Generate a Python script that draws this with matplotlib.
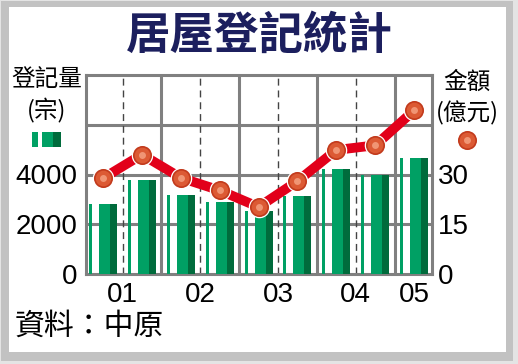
import numpy as np
import matplotlib
matplotlib.use("Agg")
import matplotlib.pyplot as plt
from matplotlib.patches import Rectangle

plt.rcParams['font.family'] = ['Liberation Sans', 'Noto Sans CJK TC', 'DejaVu Sans']

# --- Data ---
title = "居屋登記統計"
year_labels = ["01", "02", "03", "04", "05"]
year_pos = [0.5, 2.5, 4.5, 6.5, 8]
registrations = [2800, 3760, 3190, 2900, 2550, 3150, 4230, 3960, 4670]   # 宗
amount = [28.9, 36.0, 29.0, 25.2, 20.2, 28.0, 37.4, 38.8, 49.3]          # 億元
left_ticks = [0, 2000, 4000]
right_ticks = [0, 15, 30]

# --- Colours ---
green_mid = "#00a064"
green_dark = "#006b3c"
red_line = "#e2001a"
dot_edge = "#c23a1c"
dot_color = "#dc5a34"
dot_hi = "#f4a080"
grid_gray = "#808080"
navy = "#1c1f5e"

W, H = 518, 364
fig = plt.figure(figsize=(W / 100, H / 100), dpi=100)
fig.patch.set_facecolor("#e4e4e4")

# frame
fig.patches.append(Rectangle((1 / W, 3 / H), 512 / W, 360 / H, transform=fig.transFigure,
                             facecolor="#c2c2c2", edgecolor="none", zorder=-10))
fig.patches.append(Rectangle((9 / W, 12 / H), 497 / W, 345 / H, transform=fig.transFigure,
                             facecolor="white", edgecolor="none", zorder=-9))

ax = fig.add_axes([86 / W, 90 / H, 346 / W, 199 / H])
ax.set_facecolor("white")
x = np.arange(len(registrations))

# bars: thin strip, white gap, mid body, dark shade
ax.bar(x - 0.36, registrations, width=0.077, align="edge", color=green_mid, zorder=3)
ax.bar(x - 0.103, registrations, width=0.283, align="edge", color=green_mid, zorder=3)
ax.bar(x + 0.18, registrations, width=0.18, align="edge", color=green_dark, zorder=3)

ax.set_xlim(-0.44, 8.46)
ax.set_ylim(0, 8000)
ax.set_xticks(year_pos)
ax.set_xticklabels(year_labels)
ax.set_yticks(left_ticks)

# grid
for yv in [2000, 4000, 6000]:
    ax.axhline(yv, color=grid_gray, lw=2.2, zorder=1)
for xv in [1.5, 3.5, 5.5, 7.5]:
    ax.axvline(xv, color=grid_gray, lw=2.2, zorder=1)
for xv in [0.5, 2.5, 4.5, 6.5]:
    ax.axvline(xv, color="#444444", lw=1.0, ls=(0, (5, 3.5)), zorder=1)

for s in ax.spines.values():
    s.set_color(grid_gray)
    s.set_linewidth(2.2)
ax.tick_params(length=0, labelsize=20, colors="black")
ax.tick_params(axis="y", pad=6)
ax.tick_params(axis="x", pad=6)

# amount line on right axis
ax2 = ax.twinx()
ax2.set_ylim(0, 60)
ax2.set_yticks(right_ticks)
ax2.tick_params(length=0, labelsize=20, pad=4)
for s in ax2.spines.values():
    s.set_visible(False)
ax2.plot(x, amount, color=red_line, lw=7, zorder=4, solid_capstyle="butt")
ax2.plot(x, amount, ls="none", marker="o", ms=14.5, mfc="white", mec="white", zorder=5)
ax2.plot(x, amount, ls="none", marker="o", ms=12.5, mfc=dot_color, mec=dot_edge, mew=1.2, zorder=6)
ax2.plot(x, amount, ls="none", marker="o", ms=5, mfc=dot_hi, mec="none", alpha=0.85, zorder=7)

# texts
fig.text(0.5, 1 - 36 / H, title, ha="center", va="center", fontsize=32, fontweight="heavy",
         color=navy, family=["Noto Sans CJK TC"])
fig.text(47 / W, 1 - 80 / H, "登記量", ha="center", va="center", fontsize=17,
         family=["Noto Sans CJK TC"])
fig.text(47 / W, 1 - 111 / H, "(宗)", ha="center", va="center", fontsize=17,
         family=["Noto Sans CJK TC"])
fig.text(467 / W, 1 - 82 / H, "金額", ha="center", va="center", fontsize=17,
         family=["Noto Sans CJK TC"])
fig.text(467 / W, 1 - 113 / H, "(億元)", ha="center", va="center", fontsize=17,
         family=["Noto Sans CJK TC"])
fig.text(15 / W, 1 - 326 / H, "資料：中原", ha="left", va="center", fontsize=21.5,
         family=["Noto Sans CJK TC"])

# legend icons
lax = fig.add_axes([32 / W, 217 / H, 29 / W, 15 / H])
lax.bar([0], [1], width=0.22, align="edge", color=green_mid)
lax.bar([0.36], [1], width=0.38, align="edge", color=green_mid)
lax.bar([0.74], [1], width=0.26, align="edge", color=green_dark)
lax.set_xlim(0, 1)
lax.set_ylim(0, 1)
lax.axis("off")

rax = fig.add_axes([457 / W, 214 / H, 20 / W, 20 / H])
rax.plot([0], [0], marker="o", ms=12.5, mfc=dot_color, mec=dot_edge, mew=1.2)
rax.plot([0], [0], marker="o", ms=5, mfc=dot_hi, mec="none", alpha=0.85)
rax.set_xlim(-1, 1)
rax.set_ylim(-1, 1)
rax.axis("off")

fig.savefig("out.png", dpi=100, facecolor=fig.get_facecolor())
